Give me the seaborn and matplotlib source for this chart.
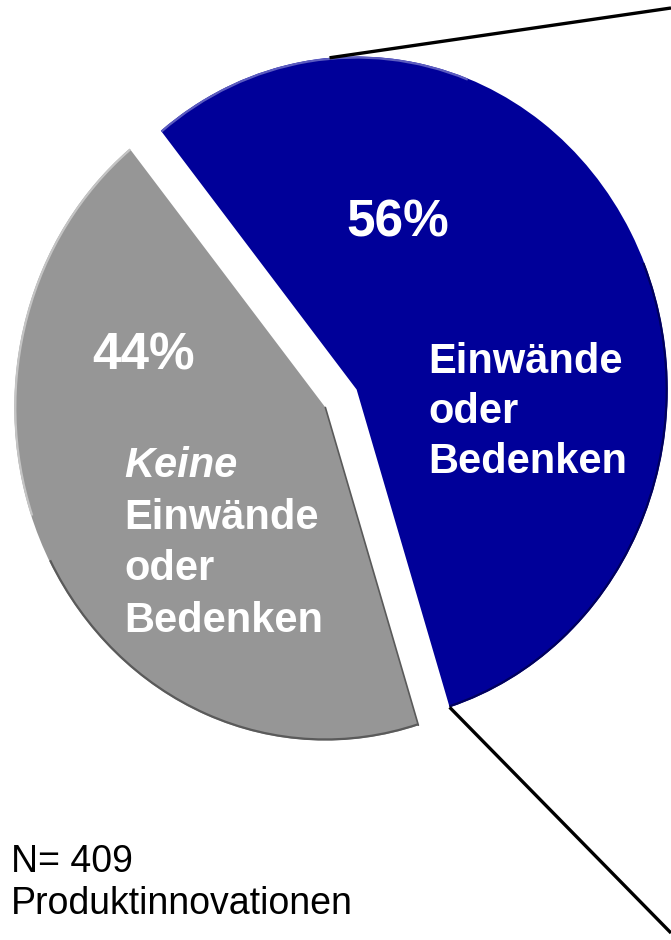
import numpy as np
import matplotlib.pyplot as plt
from matplotlib.patches import Arc
import seaborn as sns

# Daten
anteile = [56, 44]
farben = ["#000099", "#969696"]
prozent_labels = ["56%", "44%"]
blau_text = ["Einwände", "oder", "Bedenken"]
grau_text = ["Keine", "Einwände", "oder", "Bedenken"]
fussnote = ["N= 409", "Produktinnovationen"]

sns.set_theme(style="white")
plt.rcParams["font.family"] = ["Liberation Sans", "DejaVu Sans"]

W, H = 671, 940
fig = plt.figure(figsize=(W / 100, H / 100), dpi=100)
ax = fig.add_axes([0, 0, 1, 1])

# Tortenmitte und Halbachsen in Pixeln (Torte leicht gestaucht)
cx, cy = 341, 398.5
rx, ry = 311, 333


def px(x, y):
    # Pixel (von oben links) -> Datenkoordinaten
    return (x - cx) / rx, (cy - y) / ry


wedges, _ = ax.pie(anteile, colors=farben, startangle=129, counterclock=False,
                   explode=[0.057, 0.057], radius=1, center=(0, 0),
                   wedgeprops=dict(linewidth=0))
ax.set_aspect("auto")
ax.set_xlim(-cx / rx, (W - cx) / rx)
ax.set_ylim((cy - H) / ry, cy / ry)
ax.axis("off")

# leichter Kanteneffekt (hell oben links, dunkel unten rechts)
blau, grau = wedges
kanten = [
    (blau, blau.theta2 - 60, blau.theta2, "#5c5cc0"),
    (blau, blau.theta1, blau.theta1 + 95, "#00005c"),
    (grau, grau.theta1, grau.theta1 + 70, "#c4c4c4"),
    (grau, grau.theta2 - 80, grau.theta2, "#5a5a5a"),
]
for w, t1, t2, farbe in kanten:
    ax.add_patch(Arc(w.center, 2 * 0.997, 2 * 0.997, theta1=t1, theta2=t2,
                     color=farbe, lw=1.6))
gx, gy = grau.center
ga = np.deg2rad(grau.theta2)
ax.plot([gx, gx + np.cos(ga)], [gy, gy + np.sin(ga)], color="#5a5a5a", lw=1.2)

# Verbindungslinien zum (nicht gezeigten) Detailchart
bx, by = blau.center
a_oben = np.deg2rad(95)
a_unten = np.deg2rad(blau.theta1)
for ang, ende in [(a_oben, px(671, 8)), (a_unten, px(671, 933))]:
    start = (bx + np.cos(ang), by + np.sin(ang))
    ax.plot([start[0], ende[0]], [start[1], ende[1]], color="black", lw=2.4,
            clip_on=False, solid_capstyle="butt")

weiss = dict(color="white", fontweight="bold")
ax.text(*px(398, 237), prozent_labels[0], ha="center", va="baseline", fontsize=37, **weiss)
ax.text(*px(144, 370), prozent_labels[1], ha="center", va="baseline", fontsize=37, **weiss)

for i, zeile in enumerate(blau_text):
    ax.text(*px(428, 373 + 50 * i), zeile, ha="left", va="baseline", fontsize=30, **weiss)

for i, zeile in enumerate(grau_text):
    stil = "italic" if i == 0 else "normal"
    ax.text(*px(124, 477 + 51.7 * i), zeile, ha="left", va="baseline", fontsize=30,
            fontstyle=stil, **weiss)

for i, zeile in enumerate(fussnote):
    ax.text(*px(11, 872 + 42 * i), zeile, ha="left", va="baseline", fontsize=27, color="black")

fig.savefig("out.png", dpi=100)
